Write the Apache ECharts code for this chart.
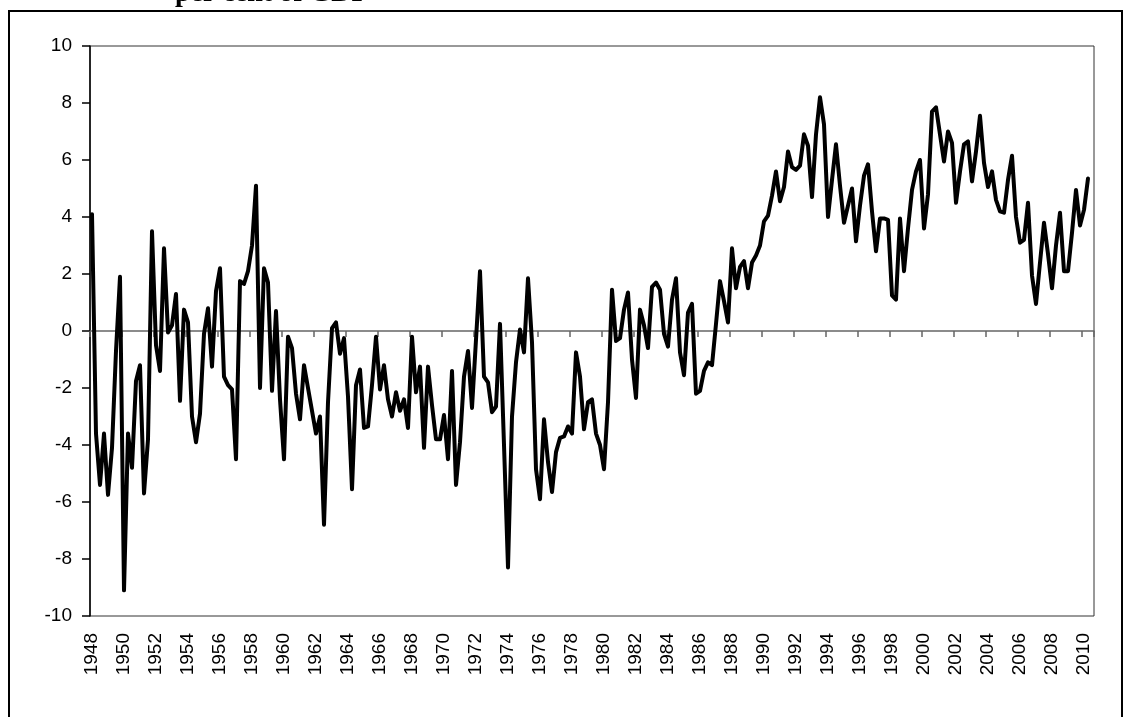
<!DOCTYPE html>
<html>
<head>
<meta charset="utf-8">
<script src="https://cdn.jsdelivr.net/npm/echarts@6/dist/echarts.min.js"></script>
<style>
html,body{margin:0;padding:0;background:#fff;}
#chart{width:1130px;height:717px;}
</style>
</head>
<body>
<div id="chart"></div>
<script>
// Quarterly values, per cent of GDP
var title = 'per cent of GDP';
var firstYear = 1948;
var lastYear = 2010;
var lastQuarter = 3; // categories run to 2010Q3
var yTicks = [-10, -8, -6, -4, -2, 0, 2, 4, 6, 8, 10];

var v1948_1955 = [4.1,-3.6,-5.4,-3.6, -5.75,-4.1,-0.7,1.9, -9.1,-3.6,-4.8,-1.75, -1.2,-5.7,-3.8,3.5,
  -0.5,-1.4,2.9,-0.05, 0.2,1.3,-2.45,0.75, 0.3,-3.0,-3.9,-2.9, -0.1,0.8,-1.25,1.4];
var v1956_1963 = [2.2,-1.6,-1.9,-2.05, -4.5,1.75,1.65,2.1, 3.0,5.1,-2.0,2.2, 1.7,-2.1,0.7,-2.4,
  -4.5,-0.2,-0.6,-2.2, -3.1,-1.2,-2.0,-2.8, -3.6,-3.0,-6.8,-2.5, 0.1,0.3,-0.8,-0.25];
var v1964_1971 = [-2.3,-5.55,-1.9,-1.35, -3.4,-3.35,-1.9,-0.2, -2.05,-1.2,-2.4,-3.0, -2.15,-2.8,-2.4,-3.4,
  -0.2,-2.15,-1.25,-4.1, -1.25,-2.6,-3.8,-3.8, -2.95,-4.5,-1.4,-5.4, -3.9,-1.6,-0.7,-2.7];
var v1972_1979 = [-0.3,2.1,-1.6,-1.8, -2.85,-2.65,0.25,-4.0, -8.3,-3.0,-1.1,0.05, -0.75,1.85,-0.4,-4.85,
  -5.9,-3.1,-4.6,-5.65, -4.25,-3.75,-3.7,-3.35, -3.6,-0.75,-1.6,-3.45, -2.5,-2.4,-3.6,-4.0];
var v1980_1987 = [-4.85,-2.5,1.45,-0.35, -0.25,0.75,1.35,-1.0, -2.35,0.75,0.2,-0.6, 1.55,1.7,1.45,-0.1,
  -0.55,1.1,1.85,-0.75, -1.55,0.65,0.95,-2.2, -2.1,-1.4,-1.1,-1.2, 0.25,1.75,1.05,0.3];
var v1988_1995 = [2.9,1.5,2.25,2.45, 1.5,2.4,2.65,3.0, 3.85,4.05,4.75,5.6, 4.55,5.05,6.3,5.75,
  5.65,5.8,6.9,6.5, 4.7,6.9,8.2,7.25, 4.0,5.3,6.55,5.1, 3.8,4.4,5.0,3.15];
var v1996_2003 = [4.4,5.45,5.85,4.2, 2.8,3.95,3.95,3.9, 1.25,1.1,3.95,2.1, 3.6,4.95,5.6,6.0,
  3.6,4.8,7.7,7.85, 6.9,5.95,7.0,6.6, 4.5,5.6,6.55,6.65];
var v2003_2010 = [5.25,6.3,7.55,5.9, 5.05,5.6,4.6,4.2, 4.15,5.3,6.15,4.0, 3.1,3.2,4.5,1.95,
  0.95,2.4,3.8,2.7, 1.5,3.0,4.15,2.1, 2.1,3.45,4.95,3.7, 4.25,5.35];

var values = [].concat(v1948_1955, v1956_1963, v1964_1971, v1972_1979,
                       v1980_1987, v1988_1995, v1996_2003, v2003_2010);

var categories = [];
for (var y = firstYear; y <= lastYear; y++) {
  for (var q = 1; q <= 4; q++) {
    if (y === lastYear && q > lastQuarter) break;
    categories.push(y + 'Q' + q);
  }
}

var chart = echarts.init(document.getElementById('chart'), null, {renderer: 'canvas'});
var axisFont = {fontFamily: 'Liberation Sans, Arial, sans-serif', fontSize: 19, color: '#000'};

chart.setOption({
  animation: false,
  backgroundColor: '#fff',
  graphic: [
    {type: 'rect', shape: {x: 9, y: 11, width: 1113, height: 730},
     style: {fill: 'none', stroke: '#000', lineWidth: 2}, z: 0},
    {type: 'text', left: 175, top: -20,
     style: {text: title, font: 'bold 28px "Liberation Serif", "Times New Roman", serif', fill: '#000'}}
  ],
  grid: {left: 90, right: 36, top: 46, bottom: 101, show: true,
         borderColor: '#333', borderWidth: 1, backgroundColor: 'transparent'},
  xAxis: [
    {type: 'category', data: categories, boundaryGap: true,
     axisLine: {show: true, onZero: true, lineStyle: {color: '#666', width: 1.5}},
     axisTick: {show: true, interval: 7, length: 6, lineStyle: {color: '#666', width: 1.5}},
     axisLabel: {show: false}, splitLine: {show: false}},
    {type: 'category', data: categories, boundaryGap: true, position: 'bottom',
     axisLine: {show: false, onZero: false}, axisTick: {show: false},
     axisLabel: Object.assign({show: true, interval: 7, rotate: 90, margin: 17,
       formatter: function (v) { return v.slice(0, 4); }}, axisFont),
     splitLine: {show: false}}
  ],
  yAxis: {
    type: 'value', min: yTicks[0], max: yTicks[yTicks.length - 1], interval: 2,
    axisLine: {show: true, lineStyle: {color: '#000', width: 1.5}},
    axisTick: {show: true, length: 8, lineStyle: {color: '#000', width: 1.5}},
    axisLabel: Object.assign({margin: 18}, axisFont),
    splitLine: {show: false}
  },
  series: [{
    type: 'line', xAxisIndex: 0, data: values, symbol: 'none',
    lineStyle: {color: '#000', width: 4, join: 'round', cap: 'round'},
    z: 3
  }]
});
</script>
</body>
</html>
